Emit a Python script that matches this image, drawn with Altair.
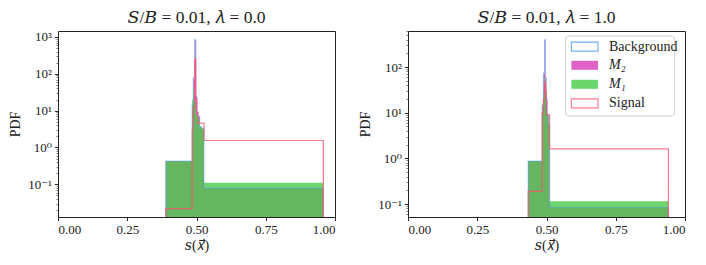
import altair as alt
import pandas as pd

# ---------------- data ----------------
left_edges = [0.389, 0.4845, 0.4885, 0.4935, 0.4975, 0.5015, 0.5055, 0.5115, 0.5195, 0.527, 0.958]
left_background = [0.43, 15, 80, 850, 25, 9, 7, 3.5, 3.3, 0.079]
left_m2 = [0.43, 14, 75, 820, 24, 9, 7, 3.4, 3.2, 0.079]
left_m1 = [0.43, 20, 40, 18, 8, 7, 6, 3.8, 3.3, 0.11]
left_signal = [0.022, 3, 12, 250, 20, 9, 4.6, 4.6, 4.6, 1.55]

right_edges = [0.434, 0.4845, 0.489, 0.493, 0.496, 0.499, 0.503, 0.507, 0.511, 0.940]
right_background = [0.87, 15, 75, 400, 60, 20, 9, 5.5, 0.085]
right_m2 = [0.87, 14, 70, 390, 55, 19, 9, 5.5, 0.085]
right_m1 = [0.87, 15, 30, 60, 25, 12, 9, 6, 0.115]
right_signal = [0.19, 10, 20, 45, 30, 9, 9, 9, 1.62]

left_ydomain = [0.013, 1450]
right_ydomain = [0.052, 615]

x_ticks = [0.0, 0.25, 0.5, 0.75, 1.0]
y_major = [0.1, 1, 10, 100, 1000]
y_major_labels = ["10\u207b\u00b9", "10\u2070", "10\u00b9", "10\u00b2", "10\u00b3"]

legend_names = ["Background", "M\u2082", "M\u2081", "Signal"]

titles = ["\U0001D446/\U0001D435 = 0.01, \U0001D706 = 0.0", "\U0001D446/\U0001D435 = 0.01, \U0001D706 = 1.0"]
x_title = "\U0001D460(\U0001D465\u20d7)"

# ---------------- style ----------------
FONT = "Liberation Serif, DejaVu Serif, serif"
BG_COLOR = "#4f9ff0"
M2_COLOR = "#e062c6"
M1_COLOR = "#47cc47"
SIG_COLOR = "#ff4d6a"
BASE = 1e-3


def step_df(edges, vals):
    n = len(vals)
    xs = [edges[0]] + list(edges[:n]) + [edges[n], edges[n]]
    ys = [BASE] + list(vals) + [vals[-1], BASE]
    return pd.DataFrame({"x": xs, "y": ys, "i": list(range(len(xs)))})


def fill_df(edges, vals):
    n = len(vals)
    xs = list(edges[:n]) + [edges[n]]
    ys = list(vals) + [vals[-1]]
    return pd.DataFrame({"x": xs, "y": ys, "b": [BASE] * len(xs)})


label_expr = " : ".join(
    f"abs(datum.value - {v}) < {v * 1e-6} ? '{l}'" for v, l in zip(y_major, y_major_labels)
) + " : ''"


def panel(edges, bg, m2, m1, sig, ydomain, title, legend):
    xs = alt.Scale(domain=[0, 1], nice=False)
    ys = alt.Scale(type="log", domain=ydomain, nice=False)
    x_enc = alt.X("x:Q", scale=xs,
                  axis=alt.Axis(values=x_ticks, format=".2f", title=x_title,
                                labelFont=FONT, titleFont=FONT,
                                tickSize=3.5, labelPadding=3, titlePadding=2))
    minor = []
    for k in range(-3, 4):
        for m in range(2, 10):
            v = m * 10 ** k
            if ydomain[0] <= v <= ydomain[1]:
                minor.append(v)
    y_main = alt.Y("y:Q", scale=ys,
                   axis=alt.Axis(values=[v for v in y_major if ydomain[0] <= v <= ydomain[1]],
                                 labelExpr=label_expr, title="PDF", orient="left",
                                 labelFont=FONT, titleFont=FONT,
                                 tickSize=3.5, labelPadding=3, titlePadding=5))
    y_minor = alt.Y("y:Q", scale=ys,
                    axis=alt.Axis(values=minor, labels=False, title=None, orient="left",
                                  tickSize=2, tickWidth=0.6))
    y_none = alt.Y("y:Q", scale=ys, axis=None)

    m2_area = alt.Chart(fill_df(edges, m2)).mark_area(
        interpolate="step-after", clip=True, color=M2_COLOR, opacity=1
    ).encode(x=x_enc, y=y_main, y2="b:Q")
    m1_area = alt.Chart(fill_df(edges, m1)).mark_area(
        interpolate="step-after", clip=True, color=M1_COLOR, opacity=0.8
    ).encode(x=x_enc, y=y_minor, y2="b:Q")
    bg_line = alt.Chart(step_df(edges, bg)).mark_line(
        interpolate="step-after", clip=True, color=BG_COLOR, strokeWidth=1.2, opacity=0.5
    ).encode(x=x_enc, y=y_none, order="i:Q")
    sig_line = alt.Chart(step_df(edges, sig)).mark_line(
        interpolate="step-after", clip=True, color=SIG_COLOR, strokeWidth=1.2, opacity=0.75
    ).encode(x=x_enc, y=y_none, order="i:Q")

    layers = [m2_area, m1_area, bg_line, sig_line]

    if legend:
        lx0, lx1, ly0, ly1 = 157.7, 266.7, 5, 85
        px0, px1, tx = 163.4, 190, 201
        rows = [15.6, 34.3, 53.3, 72.3]
        box = alt.Chart(pd.DataFrame({"k": [0]})).mark_rect(
            fill="white", fillOpacity=0.8, stroke="#d0d0d0", strokeWidth=1, cornerRadius=3
        ).encode(x=alt.value(lx0), x2=alt.value(lx1), y=alt.value(ly0), y2=alt.value(ly1))
        layers.append(box)
        styles = [
            dict(fill="white", stroke=BG_COLOR, strokeWidth=1.2, strokeOpacity=0.8),
            dict(fill=M2_COLOR),
            dict(fill=M1_COLOR, fillOpacity=0.8),
            dict(fill="white", stroke=SIG_COLOR, strokeWidth=1.2, strokeOpacity=0.75),
        ]
        for name, ry, st in zip(legend_names, rows, styles):
            d = pd.DataFrame({"label": [name]})
            patch = alt.Chart(d).mark_rect(**st).encode(
                x=alt.value(px0), x2=alt.value(px1), y=alt.value(ry - 4.5), y2=alt.value(ry + 4.5))
            italic = name.startswith("M")
            txt = alt.Chart(d).mark_text(
                align="left", baseline="middle", font=FONT, fontSize=14, color="#222",
                fontStyle="italic" if italic else "normal"
            ).encode(x=alt.value(tx), y=alt.value(ry), text="label:N")
            layers += [patch, txt]

    return alt.layer(*layers).resolve_scale(y="shared").resolve_axis(y="independent").properties(
        width=277, height=186,
        title=alt.TitleParams(title, font=FONT, fontSize=17.5, fontWeight="normal", color="#222", offset=4),
    )


left = panel(left_edges, left_background, left_m2, left_m1, left_signal, left_ydomain, titles[0], False)
right = panel(right_edges, right_background, right_m2, right_m1, right_signal, right_ydomain, titles[1], True)

chart = alt.hconcat(left, right, spacing=22).properties(
    padding={"left": 0, "top": 0, "right": 5, "bottom": 5}
).configure_view(stroke="#222", strokeWidth=1).configure_axis(
    labelFont=FONT, titleFont=FONT, labelFontSize=13, titleFontSize=14, titleFontWeight="normal",
    labelColor="#222", titleColor="#222", tickColor="#222", domain=False, grid=False,
)

chart.save("out.html", embed_options={"renderer": "svg", "actions": False})
